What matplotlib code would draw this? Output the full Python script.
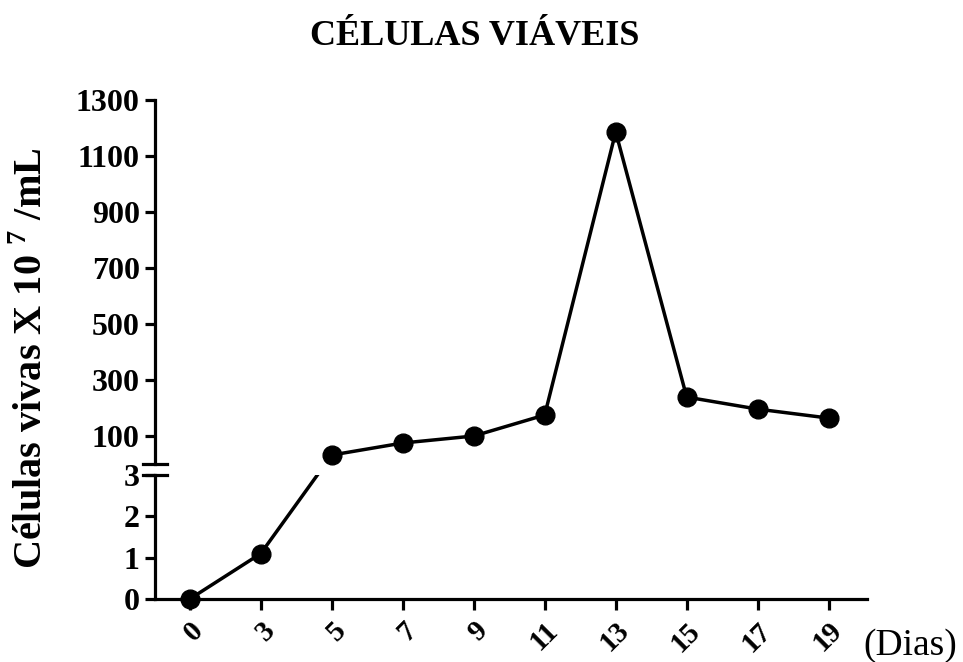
import numpy as np
import matplotlib.pyplot as plt

plt.rcParams['font.family'] = 'Liberation Serif'
plt.rcParams['font.weight'] = 'bold'
plt.rcParams['mathtext.fontset'] = 'custom'
plt.rcParams['mathtext.rm'] = 'Liberation Serif:bold'
plt.rcParams['mathtext.bf'] = 'Liberation Serif:bold'

dias = ['0', '3', '5', '7', '9', '11', '13', '15', '17', '19']
# first two days read on the lower (0-3) scale, the rest on the upper scale
celulas_baixo = [0, 1.1]
celulas_cima = [32, 75, 100, 175, 1186, 239, 196, 164]
ticks_cima = [100, 300, 500, 700, 900, 1100, 1300]
ticks_baixo = [0, 1, 2, 3]

W, H = 963, 662
fig = plt.figure(figsize=(W / 100, H / 100), dpi=100)

left = 155 / W
width = (867 - 155) / W
ax_top = fig.add_axes([left, 1 - 464 / H, width, (464 - 100) / H])
ax_bot = fig.add_axes([left, 1 - 599 / H, width, (599 - 475) / H])

lw = 2.3
x = np.arange(len(dias))
xlim = (-0.49, 9.54)

for ax in (ax_top, ax_bot):
    ax.set_xlim(*xlim)
    ax.spines['top'].set_visible(False)
    ax.spines['right'].set_visible(False)
    ax.spines['left'].set_linewidth(lw)
    ax.spines['bottom'].set_linewidth(lw)
    ax.tick_params(axis='y', direction='out', length=7, width=lw, labelsize=23, pad=4)

ax_top.set_ylim(0, 1300)
ax_top.set_yticks(ticks_cima)
ax_top.spines['bottom'].set_visible(False)
ax_top.tick_params(axis='x', bottom=False, labelbottom=False)

ax_bot.set_ylim(0, 3)
ax_bot.set_yticks(ticks_baixo)
ax_bot.set_xticks(x)
ax_bot.set_xticklabels(dias, rotation=45, ha='right', va='top', rotation_mode='anchor')
ax_bot.tick_params(axis='x', direction='out', length=8, width=lw, labelsize=21, pad=5)

# upper part of the curve
ax_top.plot(x[2:], celulas_cima, color='black', lw=2.5, marker='o', markersize=13.5,
            clip_on=False, zorder=3)

# lower part: line from day 3 heads toward the day 5 point and is cut at the break
px = ax_top.transData.transform((x[2], celulas_cima[0]))
y5_baixo = ax_bot.transData.inverted().transform(px)[1]
ax_bot.plot(x[:3], celulas_baixo + [y5_baixo], color='black', lw=2.5, zorder=3)
ax_bot.plot(x[:2], celulas_baixo, 'o', color='black', markersize=13.5, clip_on=False, zorder=4)

# break marks on the y axis
d = 12 / (867 - 155)
ax_top.plot([-d, d], [0, 0], transform=ax_top.transAxes, color='black', lw=lw, clip_on=False)
ax_bot.plot([-d, d], [1, 1], transform=ax_bot.transAxes, color='black', lw=lw, clip_on=False)

fig.text(0.493, 0.945, 'CÉLULAS VIÁVEIS', ha='center', va='center', fontsize=26, fontweight='bold')
fig.text(0.033, 0.459, r'Células vivas X 10 $^{\mathbf{7}}$ /mL', rotation=90,
         ha='center', va='center', fontsize=29, fontweight='bold')
fig.text(0.945, 0.025, '(Dias)', ha='center', va='center', fontsize=27, fontweight='normal')

fig.savefig('out.png', dpi=100)
